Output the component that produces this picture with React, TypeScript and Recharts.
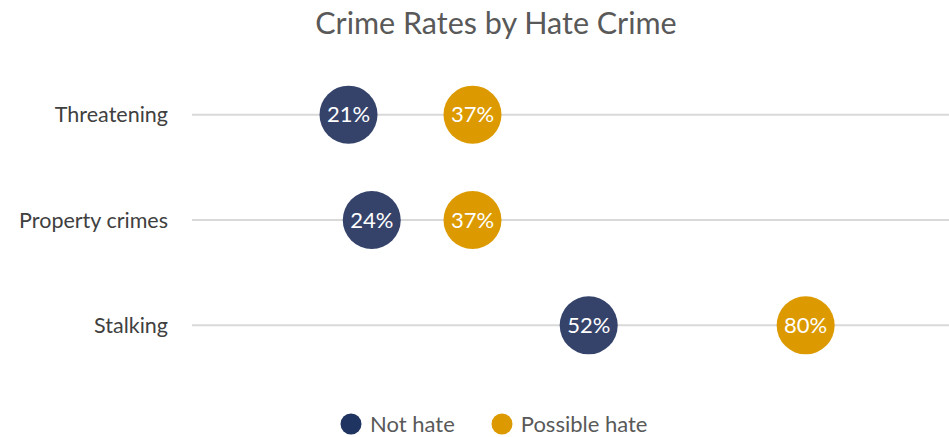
import { ScatterChart, Scatter, XAxis, YAxis, ReferenceLine } from "recharts";

const categories = ["Threatening", "Property crimes", "Stalking"];
const notHate = [21, 24, 52];
const possibleHate = [37, 37, 80];

const seriesDefs = [
  { key: "notHate", label: "Not hate", color: "#35436B", legendColor: "#1F3460", values: notHate },
  { key: "possibleHate", label: "Possible hate", color: "#DC9A00", legendColor: "#DC9A00", values: possibleHate },
];

const FONT = "Lato, 'Open Sans', sans-serif";

function Dot(props: any) {
  const { cx, cy, fill, payload } = props;
  if (cx == null || cy == null) return null;
  return (
    <g>
      <circle cx={cx} cy={cy} r={29} fill={fill} />
      <text x={cx} y={cy} dy={7.5} textAnchor="middle" fill="#ffffff" fontSize={22} fontFamily={FONT}>
        {`${payload.x}%`}
      </text>
    </g>
  );
}

export default function App() {
  return (
    <div style={{ position: "fixed", left: 0, top: 0, width: 949, height: 437, overflow: "hidden", background: "#fff" }}>
      <div
        style={{
          position: "absolute",
          left: 0,
          width: 992,
          top: 7,
          textAlign: "center",
          fontFamily: FONT,
          fontSize: 30.5,
          lineHeight: "30px",
          color: "#595959",
        }}
      >
        Crime Rates by Hate Crime
      </div>
      <ScatterChart width={949} height={437} margin={{ top: 62, right: 0, bottom: 59, left: 0 }}>
        <XAxis type="number" dataKey="x" domain={[0.8, 98.5]} hide />
        <YAxis
          type="number"
          dataKey="y"
          domain={[-0.5, 2.5]}
          ticks={[0, 1, 2]}
          reversed
          width={192}
          axisLine={false}
          tickLine={false}
          tickSize={0}
          tickMargin={24}
          tickFormatter={(v: number) => categories[v] ?? ""}
          tick={{ fill: "#404040", fontSize: 21.5, fontFamily: FONT }}
        />
        {categories.map((c, i) => (
          <ReferenceLine key={c} y={i} stroke="#d9d9d9" strokeWidth={2} />
        ))}
        {seriesDefs.map((s) => (
          <Scatter
            key={s.key}
            name={s.label}
            data={categories.map((c, i) => ({ y: i, x: s.values[i], name: c }))}
            fill={s.color}
            shape={<Dot />}
            isAnimationActive={false}
          />
        ))}
      </ScatterChart>
      <div
        style={{
          position: "absolute",
          left: 340,
          top: 413,
          display: "flex",
          alignItems: "center",
          fontFamily: FONT,
          fontSize: 22,
          lineHeight: "22px",
          color: "#595959",
        }}
      >
        {seriesDefs.map((s) => (
          <div key={s.key} style={{ display: "flex", alignItems: "center", marginRight: 36 }}>
            <svg width={22} height={22} style={{ marginRight: 8 }}>
              <circle cx={11} cy={11} r={10.5} fill={s.legendColor} />
            </svg>
            <span>{s.label}</span>
          </div>
        ))}
      </div>
    </div>
  );
}
